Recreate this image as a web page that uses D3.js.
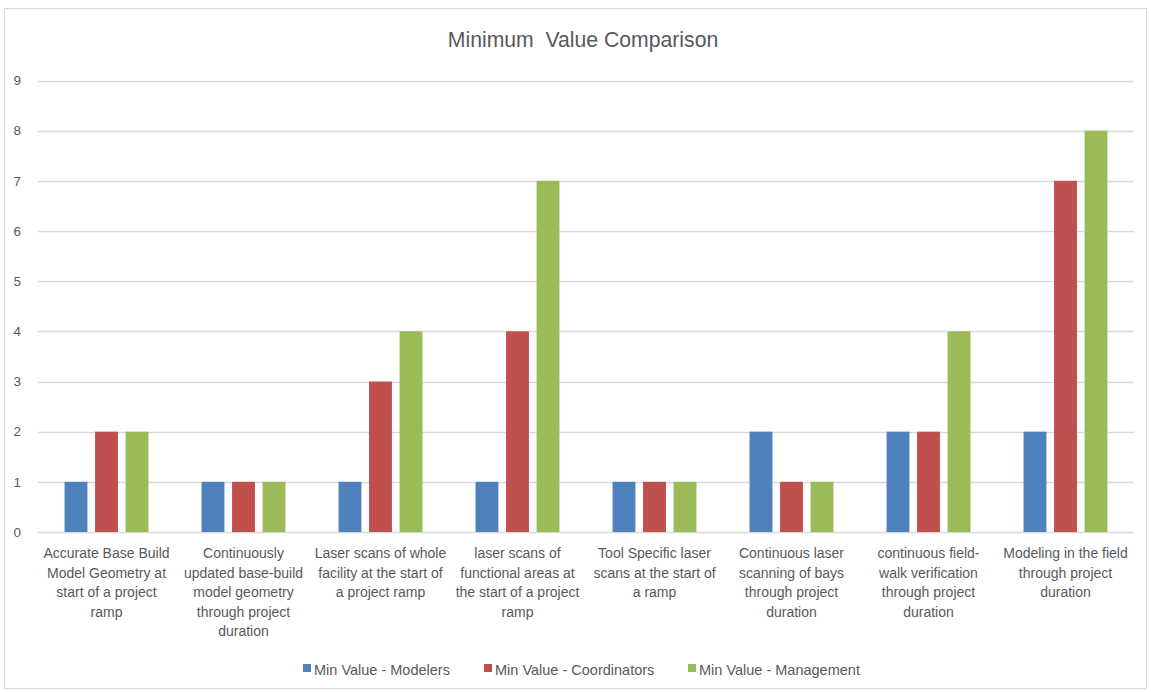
<!DOCTYPE html>
<html>
<head>
<meta charset="utf-8">
<script src="https://cdn.jsdelivr.net/npm/d3@7"></script>
<style>
  body { margin: 0; background: #fff; }
  text { font-family: "Liberation Sans", Arial, sans-serif; fill: #595959; }
</style>
</head>
<body>
<svg width="1151" height="692"></svg>
<script>
// category labels, already broken into lines as in the original
var categories = [
    ["Accurate Base Build", "Model Geometry at", "start of a project", "ramp"],
    ["Continuously", "updated base-build", "model geometry", "through project", "duration"],
    ["Laser scans of whole", "facility at the start of", "a project ramp"],
    ["laser scans of", "functional areas at", "the start of a project", "ramp"],
    ["Tool Specific laser", "scans at the start of", "a ramp"],
    ["Continuous laser", "scanning of bays", "through project", "duration"],
    ["continuous field-", "walk verification", "through project", "duration"],
    ["Modeling in the field", "through project", "duration"]
];
var seriesNames = ["Min Value - Modelers", "Min Value - Coordinators", "Min Value - Management"];
var modelers     = [1, 1, 1, 1, 1, 2, 2, 2];
var coordinators = [2, 1, 3, 4, 1, 1, 2, 7];
var management   = [2, 1, 4, 7, 1, 1, 4, 8];
var yTicks = [0, 1, 2, 3, 4, 5, 6, 7, 8, 9];
var colors = ["#4F81BD", "#C0504D", "#9BBB59"];

var seriesValues = [modelers, coordinators, management];
var data = categories.map(function(c, i) {
    return { idx: i, label: c, values: seriesValues.map(function(s) { return s[i]; }) };
});

var svg = d3.select("svg");

// outer chart border
svg.append("rect")
    .attr("x", 4.5).attr("y", 8.5)
    .attr("width", 1142).attr("height", 680)
    .attr("fill", "#fff")
    .attr("stroke", "#d9d9d9");

var x0 = d3.scaleBand()
    .domain(d3.range(categories.length))
    .range([38, 1134])
    .padding(0);

var x1 = d3.scaleBand()
    .domain(d3.range(seriesNames.length))
    .range([0, x0.bandwidth()])
    .paddingInner(0.25)
    .paddingOuter(0.87);

var y = d3.scaleLinear()
    .domain([0, 9])
    .range([532, 80.5]);

// gridlines
svg.append("g").selectAll("line")
    .data(yTicks)
    .enter().append("line")
    .attr("x1", 38).attr("x2", 1134)
    .attr("y1", function(d) { return Math.round(y(d)) + 0.5; })
    .attr("y2", function(d) { return Math.round(y(d)) + 0.5; })
    .attr("stroke", "#d9d9d9")
    .attr("stroke-width", 1.3);

// y tick labels
svg.append("g").selectAll("text")
    .data(yTicks)
    .enter().append("text")
    .attr("x", 21)
    .attr("y", function(d) { return y(d); })
    .attr("dy", "0.35em")
    .attr("text-anchor", "end")
    .style("font-size", "13.5px")
    .text(function(d) { return d; });

// bars
var group = svg.append("g").selectAll("g")
    .data(data)
    .enter().append("g")
    .attr("transform", function(d) { return "translate(" + x0(d.idx) + ",0)"; });

group.selectAll("rect")
    .data(function(d) { return d.values; })
    .enter().append("rect")
    .attr("x", function(d, i) { return x1(i); })
    .attr("y", function(d) { return y(d); })
    .attr("width", x1.bandwidth())
    .attr("height", function(d) { return y(0) - y(d); })
    .attr("fill", function(d, i) { return colors[i]; });

// category labels
var lab = svg.append("g").selectAll("text")
    .data(data)
    .enter().append("text")
    .attr("text-anchor", "middle")
    .style("font-size", "14px")
    .attr("transform", function(d) { return "translate(" + (x0(d.idx) + x0.bandwidth() / 2) + ",558)"; });

lab.selectAll("tspan")
    .data(function(d) { return d.label; })
    .enter().append("tspan")
    .attr("x", 0)
    .attr("y", function(d, i) { return i * 19.5; })
    .text(function(d) { return d; });

// title
svg.append("text")
    .attr("x", 583).attr("y", 47)
    .attr("text-anchor", "middle")
    .style("font-size", "21.2px")
    .style("white-space", "pre")
    .text("Minimum  Value Comparison");

// legend
var legendX = [303, 484, 688];
var legend = svg.append("g").selectAll("g")
    .data(seriesNames)
    .enter().append("g")
    .attr("transform", function(d, i) { return "translate(" + legendX[i] + ",664)"; });

legend.append("rect")
    .attr("width", 8).attr("height", 8)
    .attr("fill", function(d, i) { return colors[i]; });

legend.append("text")
    .attr("x", 11).attr("y", 10.5)
    .style("font-size", "14.5px")
    .text(function(d) { return d; });
</script>
</body>
</html>
